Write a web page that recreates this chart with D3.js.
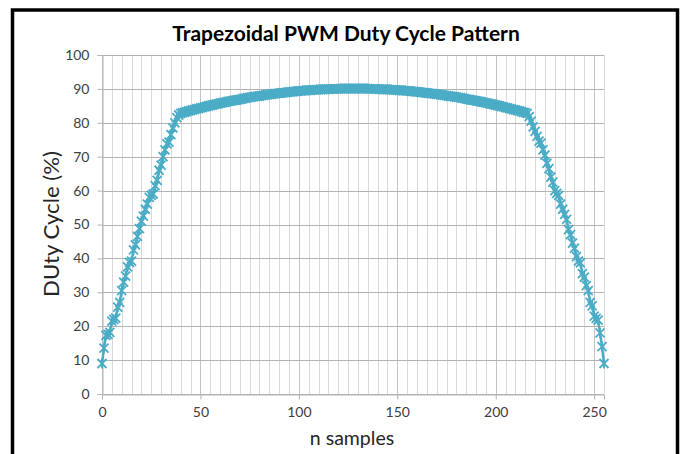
<!DOCTYPE html>
<html>
<head>
<meta charset="utf-8">
<script src="https://cdn.jsdelivr.net/npm/d3@7"></script>
<style>
    body { margin: 0; background: #fff; }
    text { font-family: Lato, "Open Sans", sans-serif; }
</style>
</head>
<body>
<div id="pwm-view"></div>
<script>
// samples 0..39, steep rise
const rampUp = [
    9.0, 13.5, 17.3, 17.6, 18.2, 21.5, 22.0, 22.4, 25.6, 27.0,
    30.5, 33.0, 34.8, 37.5, 38.8, 39.2, 42.5, 44.0, 46.5, 48.8,
    51.0, 52.5, 54.5, 56.0, 58.0, 58.6, 59.0, 61.5, 63.0, 66.0,
    67.5, 70.0, 72.0, 73.8, 74.3, 76.5, 78.5, 80.0, 81.5, 82.3
];
// samples 40..216, the flat top
const plateau = [
    82.8, 83.0, 83.1, 83.3, 83.5, 83.6, 83.8, 83.9, 84.1, 84.2,
    84.4, 84.5, 84.7, 84.8, 85.0, 85.1, 85.2, 85.4, 85.5, 85.6,
    85.8, 85.9, 86.0, 86.1, 86.3, 86.4, 86.5, 86.6, 86.7, 86.8,
    86.9, 87.0, 87.2, 87.3, 87.4, 87.5, 87.6, 87.7, 87.8, 87.8,
    87.9, 88.0, 88.1, 88.2, 88.3, 88.4, 88.4, 88.5, 88.6, 88.7,
    88.7, 88.8, 88.9, 88.9, 89.0, 89.1, 89.1, 89.2, 89.3, 89.3,
    89.4, 89.4, 89.5, 89.5, 89.6, 89.6, 89.6, 89.7, 89.7, 89.8,
    89.8, 89.8, 89.9, 89.9, 89.9, 89.9, 90.0, 90.0, 90.0, 90.0,
    90.0, 90.1, 90.1, 90.1, 90.1, 90.1, 90.1, 90.1, 90.1,
    90.1, 90.1, 90.1, 90.1, 90.1, 90.1, 90.1, 90.0, 90.0, 90.0,
    90.0, 90.0, 89.9, 89.9, 89.9, 89.9, 89.8, 89.8, 89.8, 89.7,
    89.7, 89.6, 89.6, 89.6, 89.5, 89.5, 89.4, 89.4, 89.3, 89.3,
    89.2, 89.1, 89.1, 89.0, 88.9, 88.9, 88.8, 88.7, 88.7, 88.6,
    88.5, 88.4, 88.4, 88.3, 88.2, 88.1, 88.0, 87.9, 87.8, 87.8,
    87.7, 87.6, 87.5, 87.4, 87.3, 87.2, 87.0, 86.9, 86.8, 86.7,
    86.6, 86.5, 86.4, 86.3, 86.1, 86.0, 85.9, 85.8, 85.6, 85.5,
    85.4, 85.2, 85.1, 85.0, 84.8, 84.7, 84.5, 84.4, 84.2, 84.1,
    83.9, 83.8, 83.6, 83.5, 83.3, 83.1, 83.0, 82.8
];
// samples 217..255, steep fall
const rampDown = [
    81.8, 80.5, 78.8, 77.5, 76.0, 74.6, 74.0, 72.0, 70.5, 68.0,
    66.5, 64.0, 62.5, 60.0, 59.2, 58.6, 56.0, 54.5, 53.0, 51.5,
    48.5, 47.0, 44.5, 43.0, 40.5, 39.2, 38.7, 35.5, 34.5, 32.0,
    30.5, 27.0, 26.0, 23.0, 22.3, 21.8, 18.0, 14.0, 9.0
];

const xTicks = [0, 50, 100, 150, 200, 250];
const xGrid = d3.range(0, 256, 5);
const yTicks = [0, 10, 20, 30, 40, 50, 60, 70, 80, 90, 100];

const title = 'Trapezoidal PWM Duty Cycle Pattern';
const xTitle = 'n samples';
const yTitle = 'DUty Cycle (%)';

const dutyCycle = rampUp.concat(plateau, rampDown);


const drawPattern = function () {
    const width = 682;
    const height = 454;
    const margin = {left: 102, right: 78, top: 55, bottom: 60};
    const color = '#4bacc6';

    const svg = d3.select('#pwm-view').append('svg')
        .attr('width', width)
        .attr('height', height);

    // outer frame
    svg.append('rect')
        .attr('x', 12.5).attr('y', 10)
        .attr('width', 665).attr('height', 470)
        .attr('fill', 'none')
        .attr('stroke', '#000')
        .attr('stroke-width', 3.5);

    const x = d3.scaleLinear()
        .domain([0, 255])
        .range([margin.left, width - margin.right]);
    const y = d3.scaleLinear()
        .domain([0, 100])
        .range([height - margin.bottom, margin.top]);

    // vertical grid
    svg.append('g')
        .selectAll('line')
        .data(xGrid)
        .join('line')
        .attr('x1', d => Math.round(x(d)) + 0.5)
        .attr('x2', d => Math.round(x(d)) + 0.5)
        .attr('y1', y(0))
        .attr('y2', y(100))
        .attr('stroke', d => d % 50 === 0 ? '#c4c4c4' : '#d9d9d9')
        .attr('stroke-width', 1);

    // horizontal grid
    svg.append('g')
        .selectAll('line')
        .data(yTicks)
        .join('line')
        .attr('x1', x(0))
        .attr('x2', x(255))
        .attr('y1', d => Math.round(y(d)) + 0.5)
        .attr('y2', d => Math.round(y(d)) + 0.5)
        .attr('stroke', '#b3b3b3')
        .attr('stroke-width', 1);

    const xAxis = svg.append('g')
        .attr('transform', `translate(0,${Math.round(y(0)) + 0.5})`)
        .call(d3.axisBottom(x).tickValues(xTicks).tickSize(5).tickPadding(8));
    const yAxis = svg.append('g')
        .attr('transform', `translate(${Math.round(x(0)) + 0.5},0)`)
        .call(d3.axisLeft(y).tickValues(yTicks).tickSize(5).tickPadding(8));

    [xAxis, yAxis].forEach(function (a) {
        a.select('.domain').attr('stroke', '#b3b3b3');
        a.selectAll('.tick line').attr('stroke', '#b3b3b3');
        a.selectAll('.tick text')
            .attr('fill', '#404040')
            .style('font-family', 'Lato, sans-serif')
            .style('font-size', '14px');
    });

    const line = d3.line()
        .x((d, i) => x(i))
        .y(d => y(d));

    svg.append('path')
        .datum(dutyCycle)
        .attr('d', line)
        .attr('fill', 'none')
        .attr('stroke', color)
        .attr('stroke-width', 2.5)
        .attr('stroke-linejoin', 'round');

    // star markers
    const star = 'M-4.5,-4.5L4.5,4.5M-4.5,4.5L4.5,-4.5M0,-5L0,5';
    svg.append('g')
        .selectAll('path')
        .data(dutyCycle)
        .join('path')
        .attr('transform', (d, i) => `translate(${x(i)},${y(d)})`)
        .attr('d', star)
        .attr('fill', 'none')
        .attr('stroke', color)
        .attr('stroke-width', 1.8);

    svg.append('text')
        .attr('x', 346).attr('y', 41)
        .attr('text-anchor', 'middle')
        .style('font-size', '21px')
        .style('font-weight', 'bold')
        .attr('fill', '#000')
        .text(title);

    svg.append('text')
        .attr('x', 352).attr('y', 445)
        .attr('text-anchor', 'middle')
        .style('font-size', '19.5px')
        .attr('fill', '#262626')
        .text(xTitle);

    svg.append('text')
        .attr('transform', 'translate(59,224) rotate(-90)')
        .attr('text-anchor', 'middle')
        .attr('textLength', 146)
        .attr('lengthAdjust', 'spacingAndGlyphs')
        .style('font-size', '21px')
        .attr('fill', '#262626')
        .text(yTitle);
};

drawPattern();
</script>
</body>
</html>
